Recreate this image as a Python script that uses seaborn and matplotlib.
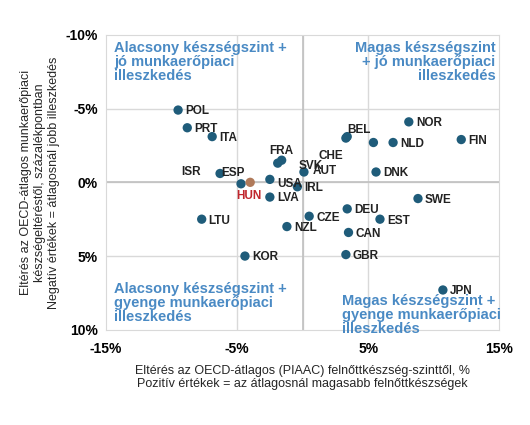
import matplotlib
matplotlib.use("Agg")
import matplotlib.pyplot as plt
import seaborn as sns
import pandas as pd

# Data
countries = ['POL', 'PRT', 'ITA', 'ISR', 'ESP', 'HUN', 'USA', 'FRA', 'SVK', 'AUT', 'LVA', 'IRL',
             'LTU', 'CZE', 'NZL', 'KOR', 'CHE', 'BEL', '', 'NLD', 'NOR', 'FIN', 'DNK', 'SWE',
             'DEU', 'EST', 'CAN', 'GBR', 'JPN']
skills = [-9.5, -8.8, -6.9, -6.3, -4.7, -4.0, -2.5, -1.9, -1.6, 0.1, -2.5, -0.4,
          -7.7, 0.5, -1.2, -4.4, 3.3, 3.4, 5.4, 6.9, 8.1, 12.1, 5.6, 8.8,
          3.4, 5.9, 3.5, 3.3, 10.7]
mismatch = [-4.9, -3.7, -3.1, -0.6, 0.1, 0.0, -0.2, -1.3, -1.5, -0.7, 1.0, 0.3,
            2.5, 2.3, 3.0, 5.0, -3.0, -3.1, -2.7, -2.7, -4.1, -2.9, -0.7, 1.1,
            1.8, 2.5, 3.4, 4.9, 7.3]

df = pd.DataFrame({'country': countries, 'x': skills, 'y': mismatch})
df['grp'] = df['country'].eq('HUN').map({True: 'hun', False: 'other'})

sns.set_style('white')
plt.rcParams['font.family'] = ['Liberation Sans', 'DejaVu Sans']

fig = plt.figure(figsize=(5.3, 4.25), dpi=100)
ax = fig.add_axes([0.2, 0.224, 0.742, 0.694])

sns.scatterplot(data=df, x='x', y='y', hue='grp', palette={'other': '#1f5c7a', 'hun': '#b07a5a'},
                s=45, edgecolor='none', legend=False, ax=ax, zorder=3)

# label offsets (points)
offsets = {'ISR': (-28, 1), 'CHE': (-20, -13), 'BEL': (0, 5), 'SVK': (12, -4), 'HUN': (-10, -10),
           'FRA': (-6, 9), 'ESP': (-14, 8), 'USA': (5, -3), 'AUT': (6, 1)}
for c, x, y in zip(countries, skills, mismatch):
    if not c:
        continue
    dx, dy = offsets.get(c, (5, -1))
    ax.annotate(c, (x, y), xytext=(dx, dy), textcoords='offset points', va='center',
                fontsize=8.5, fontweight='bold', color='#c0262d' if c == 'HUN' else '#222222')

ax.set_xlim(-15, 15)
ax.set_ylim(10, -10)
ax.set_xticks([-15, -5, 5, 15])
ax.set_yticks([-10, -5, 0, 5, 10])
ax.set_xticklabels(['-15%', '-5%', '5%', '15%'], fontweight='bold', fontsize=10)
ax.set_yticklabels(['-10%', '-5%', '0%', '5%', '10%'], fontweight='bold', fontsize=10)
ax.tick_params(length=0, colors='black')
ax.tick_params(axis='x', pad=9)
ax.tick_params(axis='y', pad=6)
for v in [-5, 0, 5]:
    ax.axvline(v, color='#d9d9d9', lw=1, zorder=1)
    ax.axhline(v, color='#d9d9d9', lw=1, zorder=1)
ax.axvline(0, color='#c0c0c0', lw=1.2, zorder=1)
ax.axhline(0, color='#c0c0c0', lw=1.2, zorder=1)
for s in ax.spines.values():
    s.set_color('#d9d9d9')

blue = '#4a8ac4'
qkw = dict(fontsize=10.5, fontweight='bold', color=blue, transform=ax.transAxes, linespacing=1.0)
ax.text(0.02, 0.98, 'Alacsony készségszint +\njó munkaerőpiaci\nilleszkedés', va='top', ha='left', **qkw)
ax.text(0.99, 0.98, 'Magas készségszint\n+ jó munkaerőpiaci\nilleszkedés', va='top', ha='right', **qkw)
ax.text(0.02, 0.02, 'Alacsony készségszint +\ngyenge munkaerőpiaci\nilleszkedés', va='bottom', ha='left', **qkw)
ax.text(0.6, -0.02, 'Magas készségszint +\ngyenge munkaerőpiaci\nilleszkedés', va='bottom', ha='left', **qkw)

ax.set_xlabel('Eltérés az OECD-átlagos (PIAAC) felnőttkészség-szinttől, %\n'
              'Pozitív értékek = az átlagosnál magasabb felnőttkészségek', fontsize=9, labelpad=6)
ax.set_ylabel('Eltérés az OECD-átlagos munkaerőpiaci\nkészségeltéréstől, százalékpontban\n'
              'Negatív értékek = átlagosnál jobb illeszkedés', fontsize=9, labelpad=4)

fig.savefig('out.png', dpi=100)
